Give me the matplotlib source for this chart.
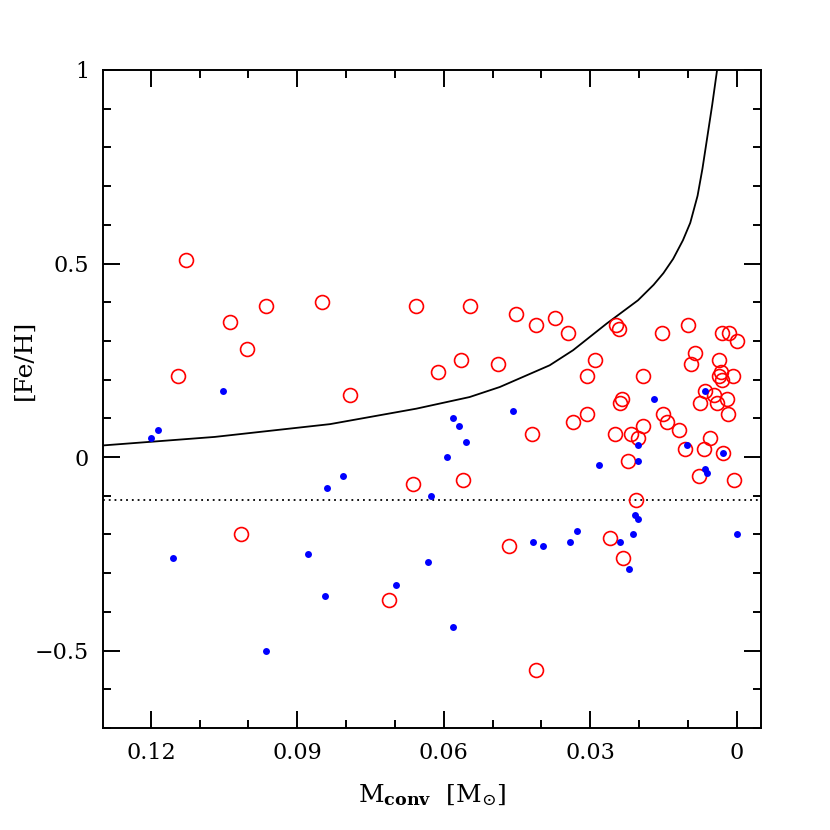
import numpy as np
import matplotlib
matplotlib.use("Agg")
import matplotlib.pyplot as plt
from matplotlib.ticker import MultipleLocator

# red open circles: (M_conv, [Fe/H])
red_m = [0.1129, 0.0964, 0.0850, 0.1038, 0.1003, 0.1145, 0.0657, 0.0546, 0.0452, 0.0412,
         0.0565, 0.0612, 0.0488, 0.0792, 0.0419, 0.0663, 0.0561, 0.0372, 0.0345, 0.0247,
         0.0241, 0.0290, 0.0307, 0.0153, 0.0100, 0.0029, 0.0015, 0.0000, 0.0085, 0.0093,
         0.0036, 0.0032, 0.0036, 0.0029, 0.0008, 0.0191, 0.0235, 0.0239, 0.0064, 0.0047,
         0.0074, 0.0040, 0.0020, 0.0018, 0.0151, 0.0142, 0.0118, 0.0307, 0.0336, 0.0192,
         0.0249, 0.0217, 0.0203, 0.0055, 0.0105, 0.0067, 0.0027, 0.0222, 0.0077, 0.0005,
         0.0206, 0.0467, 0.1015, 0.0713, 0.0411, 0.0260, 0.0232]
red_feh = [0.51, 0.39, 0.40, 0.35, 0.28, 0.21, 0.39, 0.39, 0.37, 0.34,
           0.25, 0.22, 0.24, 0.16, 0.06, -0.07, -0.06, 0.36, 0.32, 0.34,
           0.33, 0.25, 0.21, 0.32, 0.34, 0.32, 0.32, 0.30, 0.27, 0.24,
           0.25, 0.22, 0.21, 0.20, 0.21, 0.21, 0.15, 0.14, 0.17, 0.16,
           0.14, 0.14, 0.15, 0.11, 0.11, 0.09, 0.07, 0.11, 0.09, 0.08,
           0.06, 0.06, 0.05, 0.05, 0.02, 0.02, 0.01, -0.01, -0.05, -0.06,
           -0.11, -0.23, -0.20, -0.37, -0.55, -0.21, -0.26]

# blue filled dots
blue_m = [0.1053, 0.1185, 0.1199, 0.0458, 0.0581, 0.0568, 0.0554, 0.0594, 0.0807, 0.0840,
          0.0626, 0.0169, 0.0064, 0.0101, 0.0203, 0.0203, 0.0282, 0.0064, 0.0061, 0.0027,
          0.0208, 0.0203, 0.0326, 0.1155, 0.0878, 0.0843, 0.0965, 0.0417, 0.0397, 0.0632,
          0.0698, 0.0582, 0.0341, 0.0239, 0.0213, 0.0221, 0.0000]
blue_feh = [0.17, 0.07, 0.05, 0.12, 0.10, 0.08, 0.04, 0.00, -0.05, -0.08,
            -0.10, 0.15, 0.17, 0.03, 0.03, -0.01, -0.02, -0.03, -0.04, 0.01,
            -0.15, -0.16, -0.19, -0.26, -0.25, -0.36, -0.50, -0.22, -0.23, -0.27,
            -0.33, -0.44, -0.22, -0.22, -0.20, -0.29, -0.20]

# solid curve
curve_m = [0.1298, 0.1069, 0.0833, 0.0656, 0.0547, 0.0485, 0.0383, 0.0335, 0.0266,
           0.0202, 0.0170, 0.0150, 0.0130, 0.0110, 0.0095, 0.0080, 0.0070, 0.0061,
           0.0050, 0.0040]
curve_feh = [0.030, 0.052, 0.085, 0.125, 0.155, 0.181, 0.237, 0.276, 0.345,
             0.405, 0.445, 0.475, 0.512, 0.560, 0.605, 0.675, 0.745, 0.819,
             0.910, 1.000]

dotted_feh = -0.11

plt.rcParams['font.family'] = ['DejaVu Serif']
plt.rcParams['mathtext.fontset'] = 'dejavuserif'

fig = plt.figure(figsize=(8.3, 8.3), dpi=100)
ax = fig.add_axes([0.1241, 0.1229, 0.7928, 0.7928])

ax.plot(curve_m, curve_feh, color='black', lw=1.3, zorder=2)
ax.axhline(dotted_feh, color='black', lw=1.3, ls=(0, (1, 2.2)), zorder=2)

ax.plot(red_m, red_feh, 'o', ms=10, mfc='none', mec='red', mew=1.2, ls='none', zorder=3)
ax.plot(blue_m, blue_feh, 'o', ms=5, mfc='blue', mec='blue', mew=0, ls='none', zorder=4)

ax.set_xlim(0.1298, -0.005)
ax.set_ylim(-0.7, 1.0)

ax.xaxis.set_major_locator(MultipleLocator(0.03))
ax.xaxis.set_minor_locator(MultipleLocator(0.01))
ax.yaxis.set_major_locator(MultipleLocator(0.5))
ax.yaxis.set_minor_locator(MultipleLocator(0.1))
ax.set_xticks([0.12, 0.09, 0.06, 0.03, 0.0])
ax.set_xticklabels(['0.12', '0.09', '0.06', '0.03', '0'])
ax.set_yticks([-0.5, 0.0, 0.5, 1.0])
ax.set_yticklabels(['\u22120.5', '0', '0.5', '1'])

ax.tick_params(which='both', direction='in', top=True, right=True, width=1.4, labelsize=16)
ax.tick_params(which='major', length=12, pad=10)
ax.tick_params(which='minor', length=6)
for sp in ax.spines.values():
    sp.set_linewidth(1.4)

ax.set_xlabel(r'$\mathrm{M_{\mathbf{conv}}}\ \ [\mathrm{M}_{\odot}]$', fontsize=18)
ax.xaxis.set_label_coords(0.5, -0.083)
ax.set_ylabel('[Fe/H]', fontsize=18)
ax.yaxis.set_label_coords(-0.103, 0.56)

fig.savefig('out.png', dpi=100)
